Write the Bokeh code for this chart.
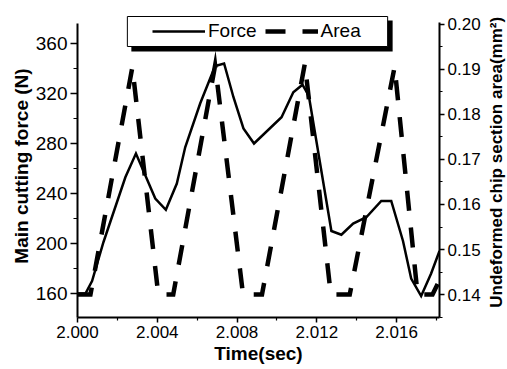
import math

from bokeh.plotting import figure
from bokeh.layouts import row
from bokeh.models import (Range1d, LinearAxis, FixedTicker, PrintfTickFormatter,
                          Legend, LegendItem)
from bokeh.core.properties import value
from bokeh.embed import file_html
from bokeh.resources import INLINE

# Main cutting force (N) against time (s)
time_force = [2.0000, 2.0004, 2.00073, 2.0013, 2.0024, 2.00293, 2.0039, 2.00443,
              2.00498, 2.0054, 2.00615, 2.0069, 2.00735, 2.00782, 2.00832, 2.00885,
              2.01023, 2.01082, 2.01128, 2.0116, 2.01273, 2.01323, 2.01382, 2.01448,
              2.01523, 2.01573, 2.01632, 2.01673, 2.01723, 2.01773, 2.01815]
force_n = [160, 160, 170, 201, 253, 272, 236, 227,
           248, 277, 312, 342, 344, 317, 292, 280,
           301, 321, 327, 318, 210, 207, 216, 221,
           234, 234, 202, 172, 158, 176, 194]

# Undeformed chip section area (mm^2) against time (s)
time_area = [2.0000, 2.00065, 2.00275, 2.00405, 2.0048, 2.0069, 2.0083, 2.00925,
             2.0114, 2.0127, 2.01365, 2.0159, 2.01705, 2.0178, 2.01815]
area_mm2 = [0.140, 0.140, 0.1905, 0.140, 0.140, 0.1909, 0.140, 0.140,
            0.1913, 0.140, 0.140, 0.1906, 0.140, 0.140, 0.1432]

x_ticks = [2.000, 2.004, 2.008, 2.012, 2.016]
x_minor = [2.002, 2.006, 2.010, 2.014, 2.018]
force_ticks = [160, 200, 240, 280, 320, 360]
force_minor = [140, 180, 220, 260, 300, 340]
area_ticks = [0.14, 0.15, 0.16, 0.17, 0.18, 0.19, 0.20]
area_minor = [0.135, 0.145, 0.155, 0.165, 0.175, 0.185, 0.195]

RIGHT_TITLE = "Undeformed chip section area(mm²)"

# page geometry (pixels): main chart plus a narrow strip for the right-hand title
W, H = 507, 369
STRIP_W = 24
W_MAIN = W - STRIP_W
B_LEFT, B_RIGHT, B_TOP, B_BOTTOM = 77, 43, 14, 52
FRAME_W = W_MAIN - B_LEFT - B_RIGHT
FRAME_H = H - B_TOP - B_BOTTOM

X0, X1 = 2.000, 2.01815
F0, F1 = 140.8, 383.2
A0, A1 = 0.134889, 0.202222

FONT = "Liberation Sans"


def px_x(px):
    """canvas x pixel -> time value"""
    return X0 + (px - B_LEFT) / FRAME_W * (X1 - X0)


def px_f(py):
    """canvas y pixel -> force value"""
    return F0 + (H - B_BOTTOM - py) / FRAME_H * (F1 - F0)


p = figure(width=W_MAIN, height=H, output_backend="svg", toolbar_location=None,
           x_range=Range1d(X0, X1), y_range=Range1d(F0, F1),
           min_border_left=B_LEFT, min_border_right=B_RIGHT,
           min_border_top=B_TOP, min_border_bottom=B_BOTTOM,
           x_axis_type=None, y_axis_type=None)
p.extra_y_ranges = {"area": Range1d(A0, A1)}
p.outline_line_color = None
p.background_fill_color = "white"
p.border_fill_color = "white"


def style_axis(ax, major_out, minor_out, label_size):
    ax.axis_line_width = 2
    ax.axis_line_color = "black"
    ax.major_tick_line_width = 1.5
    ax.minor_tick_line_width = 1.2
    ax.major_tick_in = 0
    ax.major_tick_out = major_out
    ax.minor_tick_in = 0
    ax.minor_tick_out = minor_out
    ax.major_label_text_font = FONT
    ax.major_label_text_font_size = label_size
    ax.major_label_text_color = "black"
    ax.axis_label_text_font = FONT
    ax.axis_label_text_font_size = "19px"
    ax.axis_label_text_font_style = "bold"
    ax.axis_label_text_color = "black"


x_axis = LinearAxis(ticker=FixedTicker(ticks=x_ticks, minor_ticks=x_minor),
                    formatter=PrintfTickFormatter(format="%.3f"),
                    axis_label="Time(sec)")
style_axis(x_axis, 5, 3, "17px")
x_axis.major_label_standoff = 3
x_axis.axis_label_standoff = 2
p.add_layout(x_axis, "below")

f_axis = LinearAxis(ticker=FixedTicker(ticks=force_ticks, minor_ticks=force_minor),
                    formatter=PrintfTickFormatter(format="%d"),
                    axis_label="Main cutting force (N)", bounds=(F0, 376))
style_axis(f_axis, 7, 4, "19px")
f_axis.major_label_standoff = 3
f_axis.axis_label_standoff = 1
p.add_layout(f_axis, "left")

a_axis = LinearAxis(y_range_name="area",
                    ticker=FixedTicker(ticks=area_ticks, minor_ticks=area_minor),
                    formatter=PrintfTickFormatter(format="%.2f"),
                    bounds=(A0, 0.2005))
style_axis(a_axis, 5, 3, "17px")
a_axis.major_label_standoff = 3
p.add_layout(a_axis, "right")

force_line = p.line(time_force, force_n, line_color="black", line_width=2.5,
                    line_join="miter")
area_line = p.line(time_area, area_mm2, y_range_name="area", line_color="black",
                   line_width=4.5, line_dash="20 17", line_join="miter")

# legend frame with drop shadow
p.quad(left=px_x(131), right=px_x(393), top=px_f(20), bottom=px_f(51),
       fill_color="black", line_color=None)
p.quad(left=px_x(127), right=px_x(388), top=px_f(16), bottom=px_f(46),
       fill_color="white", line_color="black", line_width=1)

legend = Legend(items=[LegendItem(label="Force", renderers=[force_line]),
                       LegendItem(label="Area", renderers=[area_line])],
                orientation="horizontal",
                location=(152 - B_LEFT, (H - B_BOTTOM) - 42),
                padding=0, margin=0, spacing=8, label_standoff=3,
                glyph_width=53, glyph_height=20,
                border_line_color=None, background_fill_alpha=0,
                label_text_font=FONT, label_text_font_size="19px",
                label_text_color="black")
p.add_layout(legend, "center")

# strip holding the right-hand axis title, reading bottom to top
strip = figure(width=STRIP_W, height=H, output_backend="svg", toolbar_location=None,
               x_range=Range1d(0, STRIP_W), y_range=Range1d(0, H),
               min_border=0, x_axis_type=None, y_axis_type=None)
strip.outline_line_color = None
strip.grid.visible = False
strip.border_fill_color = "white"
strip.background_fill_color = "white"
strip.text(x=[13], y=[H - 180], text=[RIGHT_TITLE], angle=math.pi / 2,
           text_align="center", text_baseline="middle",
           text_font=value(FONT), text_font_size="17px", text_font_style="bold",
           text_color="black")

layout = row(p, strip)
open("out.html", "w").write(file_html(layout, INLINE))
